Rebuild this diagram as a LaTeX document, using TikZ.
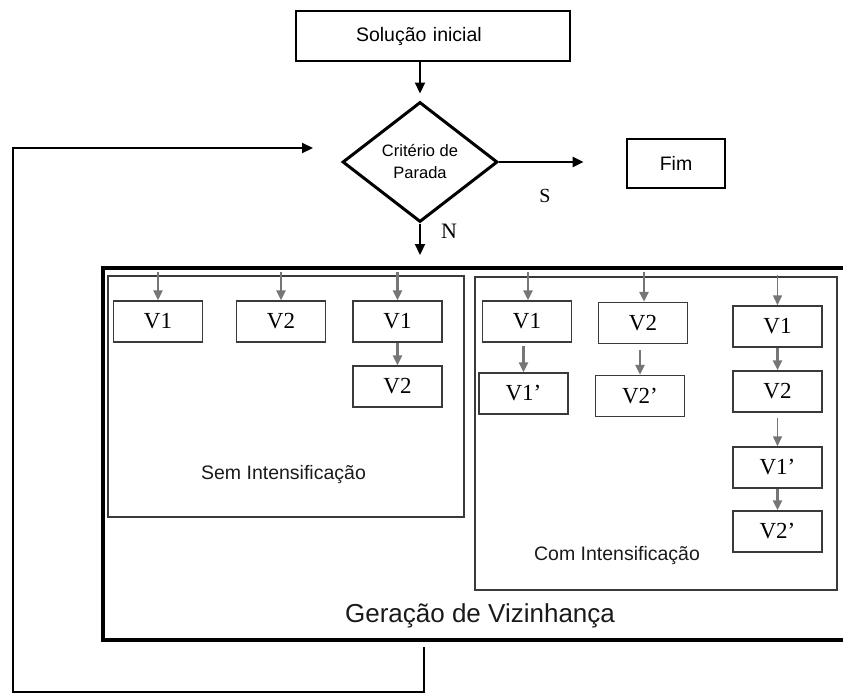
\documentclass[tikz,border=0pt]{standalone}
\usepackage{fontspec}
\setmainfont{Liberation Serif}
\newfontfamily\arialfont{Liberation Sans}
\usetikzlibrary{shapes.geometric,arrows.meta}

\definecolor{boxgray}{HTML}{3A3A3A}
\definecolor{arrowgray}{HTML}{767676}
\definecolor{textgray}{HTML}{1A1A1A}

\tikzset{
  blackbox/.style={draw=black, line width=2.8pt, inner sep=0pt,
    font=\arialfont\fontsize{19.5}{22}\selectfont},
  decision/.style={diamond, draw=black, line width=3pt, minimum width=155pt,
    minimum height=120pt, inner sep=0pt, aspect=1.29, align=center,
    font=\arialfont\fontsize{16.5}{22}\selectfont},
  flow/.style={-{Triangle[length=11pt,width=10pt]}, line width=2.2pt, black},
  vbox/.style={draw=boxgray, line width=1.5pt, minimum width=89pt,
    minimum height=41pt, inner sep=0pt, font=\fontsize{23}{24}\selectfont},
  varrow/.style={-{Triangle[length=10pt,width=9pt]}, line width=2.4pt, arrowgray},
  thinvarrow/.style={varrow, line width=1.5pt},
  panel/.style={draw=boxgray, line width=1.3pt, inner sep=0pt},
  caption/.style={font=\arialfont\fontsize{19.5}{22}\selectfont, anchor=base, text=textgray},
}

\begin{document}
\begin{tikzpicture}[x=1pt,y=-1pt]
\useasboundingbox (0,0) rectangle (843,694);

% main flow
\node[blackbox, minimum width=274pt, minimum height=50pt, text width=154pt,
      align=left, inner xsep=60pt] (sol) at (433,36) {Solução inicial};
\node[decision] (crit) at (420,162) {Critério de\\Parada};
\node[blackbox, minimum width=98pt, minimum height=49pt] (fim) at (676,163.5) {Fim};
\node[font=\fontsize{20}{22}\selectfont] (slabel) at (545,196) {S};
\node[font=\fontsize{22}{24}\selectfont] (nlabel) at (449,231) {N};

\draw[flow] (sol.south -| crit.north) -- ([yshift=7pt]crit.north);
\draw[flow, shorten >=42pt] (crit.east) -- (crit.east -| fim.west);

% neighbourhood generation frame (open on the right)
\coordinate (gtop) at (418,268);
\coordinate (gfoot) at (424,647);
\draw[line width=4pt] (860,268) -- (103,268) -- (103,640) -- (860,640);
\node[font=\arialfont\fontsize{26}{28}\selectfont, anchor=base, text=textgray] (geracao)
  at (480,622) {Geração de Vizinhança};
\draw[flow, shorten >=13pt] (crit.south) -- (crit.south |- gtop);

% return loop
\coordinate (loopcorner) at (13,692);
\coordinate (loopin) at (313,148);
\draw[line width=1.3pt, black] (gfoot) -- (gfoot |- loopcorner) -- (loopcorner);
\draw[flow] ([yshift=-0.6pt]loopcorner) -- (loopcorner |- loopin) -- (loopin);

% panels
\node[panel, minimum width=356pt, minimum height=241pt] (sem) at (286,396.5) {};
\node[panel, minimum width=362pt, minimum height=313pt] (com) at (656,433.5) {};
\node[caption] (semtext) at (283.5,479) {Sem Intensificação};
\node[caption] (comtext) at (617,560) {Com Intensificação};

% without intensification
\node[vbox] (a1) at (158,321.5) {V1};
\node[vbox] (a2) at (281,321.5) {V2};
\node[vbox] (a3) at (397.5,321.5) {V1};
\node[vbox] (a4) at (397.5,386.5) {V2};

% with intensification
\node[vbox] (b1) at (527,321.5) {V1};
\node[vbox] (b2) at (523.5,393.5) {V1’};
\node[vbox] (c1) at (643,323) {V2};
\node[vbox] (c2) at (640,396) {V2’};
\node[vbox] (d1) at (777.5,326.5) {V1};
\node[vbox] (d2) at (777.5,391.5) {V2};
\node[vbox] (d3) at (777.5,467.5) {V1’};
\node[vbox] (d4) at (777.5,531.5) {V2’};

\coordinate (rowtop) at (0,272);
\coordinate (rowtopd) at (0,275);
\draw[varrow] (a1.north |- rowtop) -- (a1.north);
\draw[varrow] (a2.north |- rowtop) -- (a2.north);
\draw[varrow] (a3.north |- rowtop) -- (a3.north);
\draw[varrow] (a3.south) -- (a4.north);

\draw[varrow] ([xshift=1pt]b1.north |- rowtop) -- ([xshift=1pt]b1.north);
\draw[varrow] ([xshift=1pt]c1.north |- rowtop) -- ([xshift=1pt]c1.north);
\draw[thinvarrow] (d1.north |- rowtopd) -- (d1.north);
\draw[varrow, shorten <=3pt] (b1.south -| b2.north) -- (b2.north);
\draw[varrow, shorten <=6pt] (c1.south -| c2.north) -- (c2.north);
\draw[varrow] (d1.south) -- (d2.north);
\draw[thinvarrow, shorten <=5pt] (d2.south) -- (d3.north);
\draw[varrow] (d3.south) -- (d4.north);
\end{tikzpicture}
\end{document}
